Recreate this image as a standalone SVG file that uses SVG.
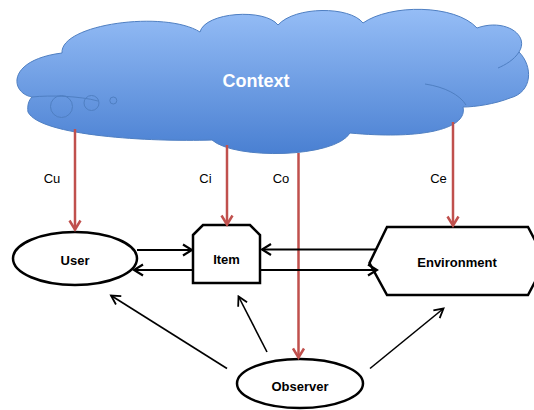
<svg xmlns="http://www.w3.org/2000/svg" width="534" height="410" viewBox="0 0 534 410">
  <defs>
    <linearGradient id="cloudFill" x1="0" y1="0" x2="0" y2="1">
      <stop offset="0" stop-color="#95bdf6"/>
      <stop offset="1" stop-color="#4a80d2"/>
    </linearGradient>
    <marker id="headRed" markerUnits="userSpaceOnUse" markerWidth="14" markerHeight="14" refX="0" refY="0" viewBox="-12 -7 14 14" orient="auto">
      <path d="M -9,-5.5 L 0,0 L -9,5.5" fill="none" stroke="#c0504d" stroke-width="2.5" stroke-linejoin="miter"/>
    </marker>
    <marker id="headBlack" markerUnits="userSpaceOnUse" markerWidth="14" markerHeight="14" refX="0" refY="0" viewBox="-12 -7 14 14" orient="auto">
      <path d="M -9,-5.5 L 0,0 L -9,5.5" fill="none" stroke="#000" stroke-width="2.2" stroke-linejoin="miter"/>
    </marker>
    <marker id="headThin" markerUnits="userSpaceOnUse" markerWidth="14" markerHeight="14" refX="0" refY="0" viewBox="-12 -7 14 14" orient="auto">
      <path d="M -9,-5 L 0,0 L -9,5" fill="none" stroke="#000" stroke-width="1.8" stroke-linejoin="miter"/>
    </marker>
  </defs>
  <style>
    .shape { fill: #fff; stroke: #000; stroke-width: 2.5; }
    .label { font-family: "Liberation Sans", Arial, sans-serif; font-weight: bold; font-size: 13px; fill: #000; text-anchor: middle; }
    .tag { font-family: "Liberation Sans", Arial, sans-serif; font-size: 13px; fill: #000; text-anchor: middle; }
    .ctx { stroke: #c0504d; stroke-width: 2.5; fill: none; marker-end: url(#headRed); }
    .flow { stroke: #000; stroke-width: 2.2; fill: none; marker-end: url(#headBlack); }
    .obs { stroke: #000; stroke-width: 1.6; fill: none; marker-end: url(#headThin); }
    .cloudLine { fill: none; stroke: #4f7fc2; stroke-width: 1; }
  </style>

  <!-- Context cloud -->
  <g id="context">
    <path d="M 32,97 C 10,93 6,60 62,53 C 60,24 165,10 200,32 C 205,12 265,8 278,25 C 295,6 350,6 363,23 C 390,4 455,4 477,28 C 505,18 530,35 519,52 C 533,66 533,92 510,98 C 495,104 475,107 463,107 C 468,128 425,140 350,133 C 335,158 235,160 212,140 C 150,142 40,136 28,112 C 27,105 29,100 32,97 Z" fill="url(#cloudFill)" stroke="#4f7fc2" stroke-width="1"/>
    <path class="cloudLine" d="M 32,97 C 50,95 80,96 98,101"/>
    <path class="cloudLine" d="M 498,68 C 505,65 514,60 519,52"/>
    <path class="cloudLine" d="M 425,84 C 445,87 460,95 466,105"/>
    <circle class="cloudLine" cx="61.5" cy="106.5" r="11"/>
    <circle class="cloudLine" cx="91.5" cy="103" r="7.5"/>
    <circle class="cloudLine" cx="113.3" cy="100.5" r="3.5"/>
    <text x="256" y="87" font-family="Liberation Sans, Arial, sans-serif" font-weight="bold" font-size="18" fill="#fff" text-anchor="middle">Context</text>
  </g>

  <!-- User -->
  <g id="user">
    <ellipse class="shape" cx="75" cy="258.5" rx="62" ry="26.5"/>
    <text class="label" x="75" y="265">User</text>
  </g>

  <!-- Item -->
  <g id="item">
    <path class="shape" d="M 193,235 L 203,225 L 250,225 L 260,235 L 260,283 L 193,283 Z"/>
    <text class="label" x="226.5" y="263.5">Item</text>
  </g>

  <!-- Environment -->
  <g id="environment">
    <path class="shape" d="M 387,227 L 528,227 L 546,261 L 528,295 L 387,295 L 369.5,263 Z"/>
    <text class="label" x="457" y="267">Environment</text>
  </g>

  <!-- Observer -->
  <g id="observer">
    <ellipse class="shape" cx="300" cy="383.5" rx="63" ry="24.5"/>
    <text class="label" x="300" y="391">Observer</text>
  </g>

  <!-- Connectors -->
  <g id="connectors">
    <line class="ctx" x1="75" y1="129" x2="75" y2="229.5"/>
    <line class="ctx" x1="227" y1="145" x2="227" y2="224.5"/>
    <line class="ctx" x1="298.5" y1="153" x2="298.5" y2="357.5"/>
    <line class="ctx" x1="453" y1="122" x2="453" y2="225.5"/>

    <line class="flow" x1="137" y1="250" x2="192" y2="250"/>
    <line class="flow" x1="193" y1="270" x2="134" y2="270"/>
    <line class="flow" x1="376" y1="249.5" x2="262" y2="249.5"/>
    <line class="flow" x1="260" y1="270" x2="377" y2="270"/>

    <line class="obs" x1="227" y1="368.5" x2="111" y2="295.5"/>
    <line class="obs" x1="267" y1="352" x2="238.5" y2="296.5"/>
    <line class="obs" x1="370" y1="368.5" x2="443.5" y2="308.5"/>
  </g>

  <!-- Context labels -->
  <g id="tags">
    <text class="tag" x="52" y="183">Cu</text>
    <text class="tag" x="205.5" y="183">Ci</text>
    <text class="tag" x="281" y="183">Co</text>
    <text class="tag" x="438.5" y="183">Ce</text>
  </g>
</svg>
